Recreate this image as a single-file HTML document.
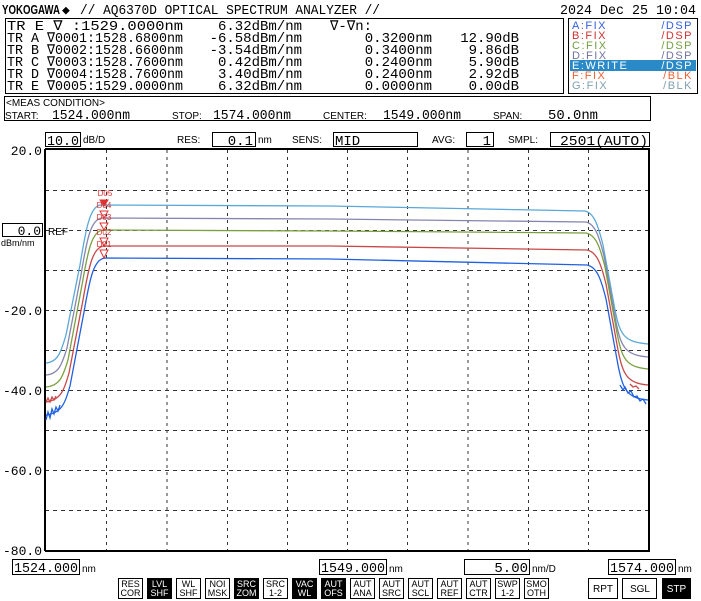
<!DOCTYPE html>
<html><head><meta charset="utf-8"><style>
body{margin:0;background:#fff;}
svg{display:block;font-family:"Liberation Mono","DejaVu Sans Mono",monospace;}
</style></head><body>
<svg width="701" height="601" viewBox="0 0 701 601" xmlns="http://www.w3.org/2000/svg">
<rect width="701" height="601" fill="#fff"/>
<text x="2" y="14" font-family="Liberation Sans,sans-serif" font-size="13" font-weight="bold" textLength="58" lengthAdjust="spacingAndGlyphs">YOKOGAWA</text>
<text x="62" y="14" font-size="13">◆</text>
<text x="80" y="14" font-size="14" textLength="300" lengthAdjust="spacingAndGlyphs">// AQ6370D OPTICAL SPECTRUM ANALYZER //</text>
<text x="560" y="14" font-size="14" textLength="136" lengthAdjust="spacingAndGlyphs">2024 Dec 25 10:04</text>
<rect x="5.5" y="18.5" width="558" height="75" fill="none" stroke="#000"/>
<g font-size="14" font-family="Liberation Mono,monospace">
<text x="7" y="30" textLength="176" lengthAdjust="spacingAndGlyphs">TR E ∇    :1529.0000nm</text>
<text x="7" y="42" textLength="176" lengthAdjust="spacingAndGlyphs">TR A ∇0001:1528.6800nm</text>
<text x="7" y="54" textLength="176" lengthAdjust="spacingAndGlyphs">TR B ∇0002:1528.6600nm</text>
<text x="7" y="66" textLength="176" lengthAdjust="spacingAndGlyphs">TR C ∇0003:1528.7600nm</text>
<text x="7" y="78" textLength="176" lengthAdjust="spacingAndGlyphs">TR D ∇0004:1528.7600nm</text>
<text x="7" y="90" textLength="176" lengthAdjust="spacingAndGlyphs">TR E ∇0005:1529.0000nm</text>
<g text-anchor="end">
<text x="302" y="30">6.32dBm/nm</text>
<text x="302" y="42">-6.58dBm/nm</text>
<text x="302" y="54">-3.54dBm/nm</text>
<text x="302" y="66">0.42dBm/nm</text>
<text x="302" y="78">3.40dBm/nm</text>
<text x="302" y="90">6.32dBm/nm</text>
<text x="432" y="42">0.3200nm</text>
<text x="432" y="54">0.3400nm</text>
<text x="432" y="66">0.2400nm</text>
<text x="432" y="78">0.2400nm</text>
<text x="432" y="90">0.0000nm</text>
<text x="519" y="42">12.90dB</text>
<text x="519" y="54">9.86dB</text>
<text x="519" y="66">5.90dB</text>
<text x="519" y="78">2.92dB</text>
<text x="519" y="90">0.00dB</text>
</g>
<text x="330" y="30">∇-∇n:</text>
</g>
<rect x="568.5" y="18.5" width="129" height="75" fill="none" stroke="#000"/>
<rect x="570" y="60" width="126" height="11" fill="#2a8ac8"/>
<g font-family="Liberation Sans,sans-serif" font-size="11" letter-spacing="1.5">
<text x="572" y="29" fill="#3060e0">A:FIX</text><text x="693" y="29" fill="#3060e0" text-anchor="end">/DSP</text>
<text x="572" y="39" fill="#d03030">B:FIX</text><text x="693" y="39" fill="#d03030" text-anchor="end">/DSP</text>
<text x="572" y="49" fill="#70a040">C:FIX</text><text x="693" y="49" fill="#70a040" text-anchor="end">/DSP</text>
<text x="572" y="59" fill="#7070a0">D:FIX</text><text x="693" y="59" fill="#7070a0" text-anchor="end">/DSP</text>
<text x="572" y="69" fill="#fff">E:WRITE</text><text x="693" y="69" fill="#fff" text-anchor="end">/DSP</text>
<text x="572" y="79" fill="#f06030">F:FIX</text><text x="693" y="79" fill="#f06030" text-anchor="end">/BLK</text>
<text x="572" y="89" fill="#80a0b0">G:FIX</text><text x="693" y="89" fill="#80a0b0" text-anchor="end">/BLK</text>
</g>
<rect x="4.5" y="96.5" width="646" height="24" fill="none" stroke="#000"/>
<g font-family="Liberation Sans,sans-serif" font-size="10">
<text x="6" y="106">&lt;MEAS CONDITION&gt;</text>
<text x="5" y="119">START:</text>
<text x="172" y="119">STOP:</text>
<text x="323" y="119">CENTER:</text>
<text x="493" y="119">SPAN:</text>
<text x="83" y="143">dB/D</text>
<text x="177" y="143">RES:</text>
<text x="258" y="143">nm</text>
<text x="292" y="143">SENS:</text>
<text x="432" y="143">AVG:</text>
<text x="508" y="143">SMPL:</text>
</g>
<g font-size="14">
<text x="52" y="119" textLength="78" lengthAdjust="spacingAndGlyphs">1524.000nm</text>
<text x="213" y="119" textLength="78" lengthAdjust="spacingAndGlyphs">1574.000nm</text>
<text x="383" y="119" textLength="78" lengthAdjust="spacingAndGlyphs">1549.000nm</text>
<text x="548" y="119" textLength="50" lengthAdjust="spacingAndGlyphs">50.0nm</text>
</g>
<g fill="none" stroke="#000">
<rect x="45.5" y="132.5" width="35" height="14"/>
<rect x="212.5" y="132.5" width="43" height="14"/>
<rect x="333.5" y="132.5" width="84" height="14"/>
<rect x="466.5" y="132.5" width="27" height="14"/>
<rect x="550.5" y="132.5" width="99" height="14"/>
</g>
<g font-size="14">
<text x="47" y="145" textLength="32" lengthAdjust="spacingAndGlyphs">10.0</text>
<text x="253" y="145" text-anchor="end">0.1</text>
<text x="335" y="145">MID</text>
<text x="491" y="145" text-anchor="end">1</text>
<text x="648" y="145" text-anchor="end" textLength="88" lengthAdjust="spacingAndGlyphs">2501(AUTO)</text>
</g>
<g stroke="#333" stroke-dasharray="4,4" stroke-width="1">
<line x1="45" y1="190.5" x2="649" y2="190.5"/>
<line x1="45" y1="230.5" x2="649" y2="230.5"/>
<line x1="45" y1="270.5" x2="649" y2="270.5"/>
<line x1="45" y1="310.5" x2="649" y2="310.5"/>
<line x1="45" y1="350.5" x2="649" y2="350.5"/>
<line x1="45" y1="390.5" x2="649" y2="390.5"/>
<line x1="45" y1="430.5" x2="649" y2="430.5"/>
<line x1="45" y1="470.5" x2="649" y2="470.5"/>
<line x1="45" y1="510.5" x2="649" y2="510.5"/>
</g>
<g stroke="#333" stroke-dasharray="3,4">
<line x1="106.5" y1="150" x2="106.5" y2="550"/>
<line x1="167" y1="150" x2="167" y2="550"/>
<line x1="227.5" y1="150" x2="227.5" y2="550"/>
<line x1="287.5" y1="150" x2="287.5" y2="550"/>
<line x1="347.5" y1="150" x2="347.5" y2="550"/>
<line x1="407.5" y1="150" x2="407.5" y2="550"/>
<line x1="468" y1="150" x2="468" y2="550"/>
<line x1="528.5" y1="150" x2="528.5" y2="550"/>
<line x1="588.5" y1="150" x2="588.5" y2="550"/>
</g>
<line x1="45" y1="149" x2="650" y2="149" stroke="#000" stroke-width="2"/>
<line x1="45" y1="149" x2="45" y2="551" stroke="#000" stroke-width="2"/>
<line x1="649" y1="149" x2="649" y2="551" stroke="#000" stroke-width="2"/>
<line x1="45" y1="551" x2="650" y2="551" stroke="#000" stroke-width="2"/>
<g font-size="13" text-anchor="end">
<text x="42" y="155">20.0</text>
<text x="42" y="315">-20.0</text>
<text x="42" y="395">-40.0</text>
<text x="42" y="475">-60.0</text>
<text x="42" y="555">-80.0</text>
</g>
<rect x="2.5" y="223.5" width="40" height="13" fill="#fff" stroke="#000"/>
<text x="41" y="235" font-size="13" text-anchor="end">0.0</text>
<text x="48" y="235" font-family="Liberation Sans,sans-serif" font-size="10">REF</text>
<text x="1" y="246" font-family="Liberation Sans,sans-serif" font-size="9">dBm/nm</text>
<g fill="none" stroke-width="1.3">
<path stroke="#5aa8d8" d="M46,363 C58,362 61,352 66,335 L80,265 C86,228 90,207 100,205 L330,206 L585,211 C594,213 598,225 603,245 L615,310 C620,335 624,342 648,344"/>
<path stroke="#8585b0" d="M46,375 C59,374 62,364 67,348 L81,275 C87,238 91,219 102,218 L330,219 L586,222 C595,224 599,236 604,256 L616,322 C621,347 625,355 648,357"/>
<path stroke="#7aa040" d="M46,387 C60,386 63,376 68,360 L82,285 C88,250 92,231 103,230 L330,231 L586,233 C596,235 600,247 605,267 L617,333 C622,359 626,367 648,369"/>
<path stroke="#c84848" d="M46,402 C61,400 64,390 69,373 L83,300 C89,265 93,247 104,246 L330,246 L587,250 C597,252 601,264 606,284 L618,350 C623,375 627,383 648,385"/>
<path stroke="#2060e0" d="M46,415 C62,413 65,403 70,386 L84,312 C90,277 94,259 105,258 L330,259 L587,265 C597,267 601,279 606,299 L618,365 C623,390 627,398 648,400"/>
<path stroke="#2060e0" d="M46,420 l2,-8 l2,6 l2,-9 l2,5 l2,-7 l2,4 l2,-6 M620,385 l3,5 l2,-3 l3,6 l3,-2 l3,6 l3,-1 l3,5 l3,-2 l3,5"/>
<path stroke="#c84848" d="M46,402 l2,-4 l2,4 l2,-5 l2,3 l2,-4 M630,384 l3,3 l3,-1 l3,3"/>
</g>
<g fill="#fff" stroke="#e03030" stroke-width="1">
<path d="M100,200 L108,200 L104,206 Z" fill="#e03030"/>
<path d="M100,211 L108,211 L104,218 Z"/>
<path d="M100,223 L108,223 L104,230 Z"/>
<path d="M100,238 L108,238 L104,246 Z"/>
<path d="M100,250 L108,250 L104,258 Z"/>
</g>
<g font-family="Liberation Sans,sans-serif" font-size="8" fill="#e03030" text-anchor="middle">
<text x="105" y="196">D05</text>
<text x="104" y="208">D04</text>
<text x="104" y="220">D03</text>
<text x="104" y="235">D02</text>
<text x="104" y="247">D01</text>
</g>
<g fill="none" stroke="#000">
<rect x="12.5" y="559.5" width="67" height="15"/>
<rect x="319.5" y="559.5" width="67" height="15"/>
<rect x="464.5" y="559.5" width="65" height="15"/>
<rect x="608.5" y="559.5" width="67" height="15"/>
</g>
<g font-size="14">
<text x="14" y="572" textLength="64" lengthAdjust="spacingAndGlyphs">1524.000</text>
<text x="321" y="572" textLength="64" lengthAdjust="spacingAndGlyphs">1549.000</text>
<text x="528" y="572" text-anchor="end">5.00</text>
<text x="610" y="572" textLength="64" lengthAdjust="spacingAndGlyphs">1574.000</text>
</g>
<g font-family="Liberation Sans,sans-serif" font-size="10">
<text x="82" y="572">nm</text><text x="389" y="572">nm</text><text x="532" y="572">nm/D</text><text x="678" y="572">nm</text>
</g>
<g font-family="Liberation Sans,sans-serif" font-size="9" text-anchor="middle">
<g transform="translate(118,578)"><rect x="0.5" y="0.5" width="24" height="20" fill="#fff" stroke="#000"/><text x="12.5" y="9">RES</text><text x="12.5" y="18">COR</text></g>
<g transform="translate(147,578)"><rect x="0.5" y="0.5" width="24" height="20" fill="#000" stroke="#000"/><text x="12.5" y="9" fill="#fff">LVL</text><text x="12.5" y="18" fill="#fff">SHF</text></g>
<g transform="translate(176,578)"><rect x="0.5" y="0.5" width="24" height="20" fill="#fff" stroke="#000"/><text x="12.5" y="9">WL</text><text x="12.5" y="18">SHF</text></g>
<g transform="translate(205,578)"><rect x="0.5" y="0.5" width="24" height="20" fill="#fff" stroke="#000"/><text x="12.5" y="9">NOI</text><text x="12.5" y="18">MSK</text></g>
<g transform="translate(234,578)"><rect x="0.5" y="0.5" width="24" height="20" fill="#000" stroke="#000"/><text x="12.5" y="9" fill="#fff">SRC</text><text x="12.5" y="18" fill="#fff">ZOM</text></g>
<g transform="translate(263,578)"><rect x="0.5" y="0.5" width="24" height="20" fill="#fff" stroke="#000"/><text x="12.5" y="9">SRC</text><text x="12.5" y="18">1-2</text></g>
<g transform="translate(292,578)"><rect x="0.5" y="0.5" width="24" height="20" fill="#000" stroke="#000"/><text x="12.5" y="9" fill="#fff">VAC</text><text x="12.5" y="18" fill="#fff">WL</text></g>
<g transform="translate(321,578)"><rect x="0.5" y="0.5" width="24" height="20" fill="#000" stroke="#000"/><text x="12.5" y="9" fill="#fff">AUT</text><text x="12.5" y="18" fill="#fff">OFS</text></g>
<g transform="translate(350,578)"><rect x="0.5" y="0.5" width="24" height="20" fill="#fff" stroke="#000"/><text x="12.5" y="9">AUT</text><text x="12.5" y="18">ANA</text></g>
<g transform="translate(379,578)"><rect x="0.5" y="0.5" width="24" height="20" fill="#fff" stroke="#000"/><text x="12.5" y="9">AUT</text><text x="12.5" y="18">SRC</text></g>
<g transform="translate(408,578)"><rect x="0.5" y="0.5" width="24" height="20" fill="#fff" stroke="#000"/><text x="12.5" y="9">AUT</text><text x="12.5" y="18">SCL</text></g>
<g transform="translate(437,578)"><rect x="0.5" y="0.5" width="24" height="20" fill="#fff" stroke="#000"/><text x="12.5" y="9">AUT</text><text x="12.5" y="18">REF</text></g>
<g transform="translate(466,578)"><rect x="0.5" y="0.5" width="24" height="20" fill="#fff" stroke="#000"/><text x="12.5" y="9">AUT</text><text x="12.5" y="18">CTR</text></g>
<g transform="translate(495,578)"><rect x="0.5" y="0.5" width="24" height="20" fill="#fff" stroke="#000"/><text x="12.5" y="9">SWP</text><text x="12.5" y="18">1-2</text></g>
<g transform="translate(524,578)"><rect x="0.5" y="0.5" width="24" height="20" fill="#fff" stroke="#000"/><text x="12.5" y="9">SMO</text><text x="12.5" y="18">OTH</text></g>
<rect x="588.5" y="578.5" width="29" height="20" fill="#fff" stroke="#000"/><text x="603" y="592" font-size="10">RPT</text>
<rect x="622.5" y="578.5" width="34" height="20" fill="#fff" stroke="#000"/><text x="640" y="592" font-size="10">SGL</text>
<rect x="662.5" y="578.5" width="28" height="20" fill="#000" stroke="#000"/><text x="676.5" y="592" font-size="10" fill="#fff">STP</text>
</g>
</svg>
</body></html>
